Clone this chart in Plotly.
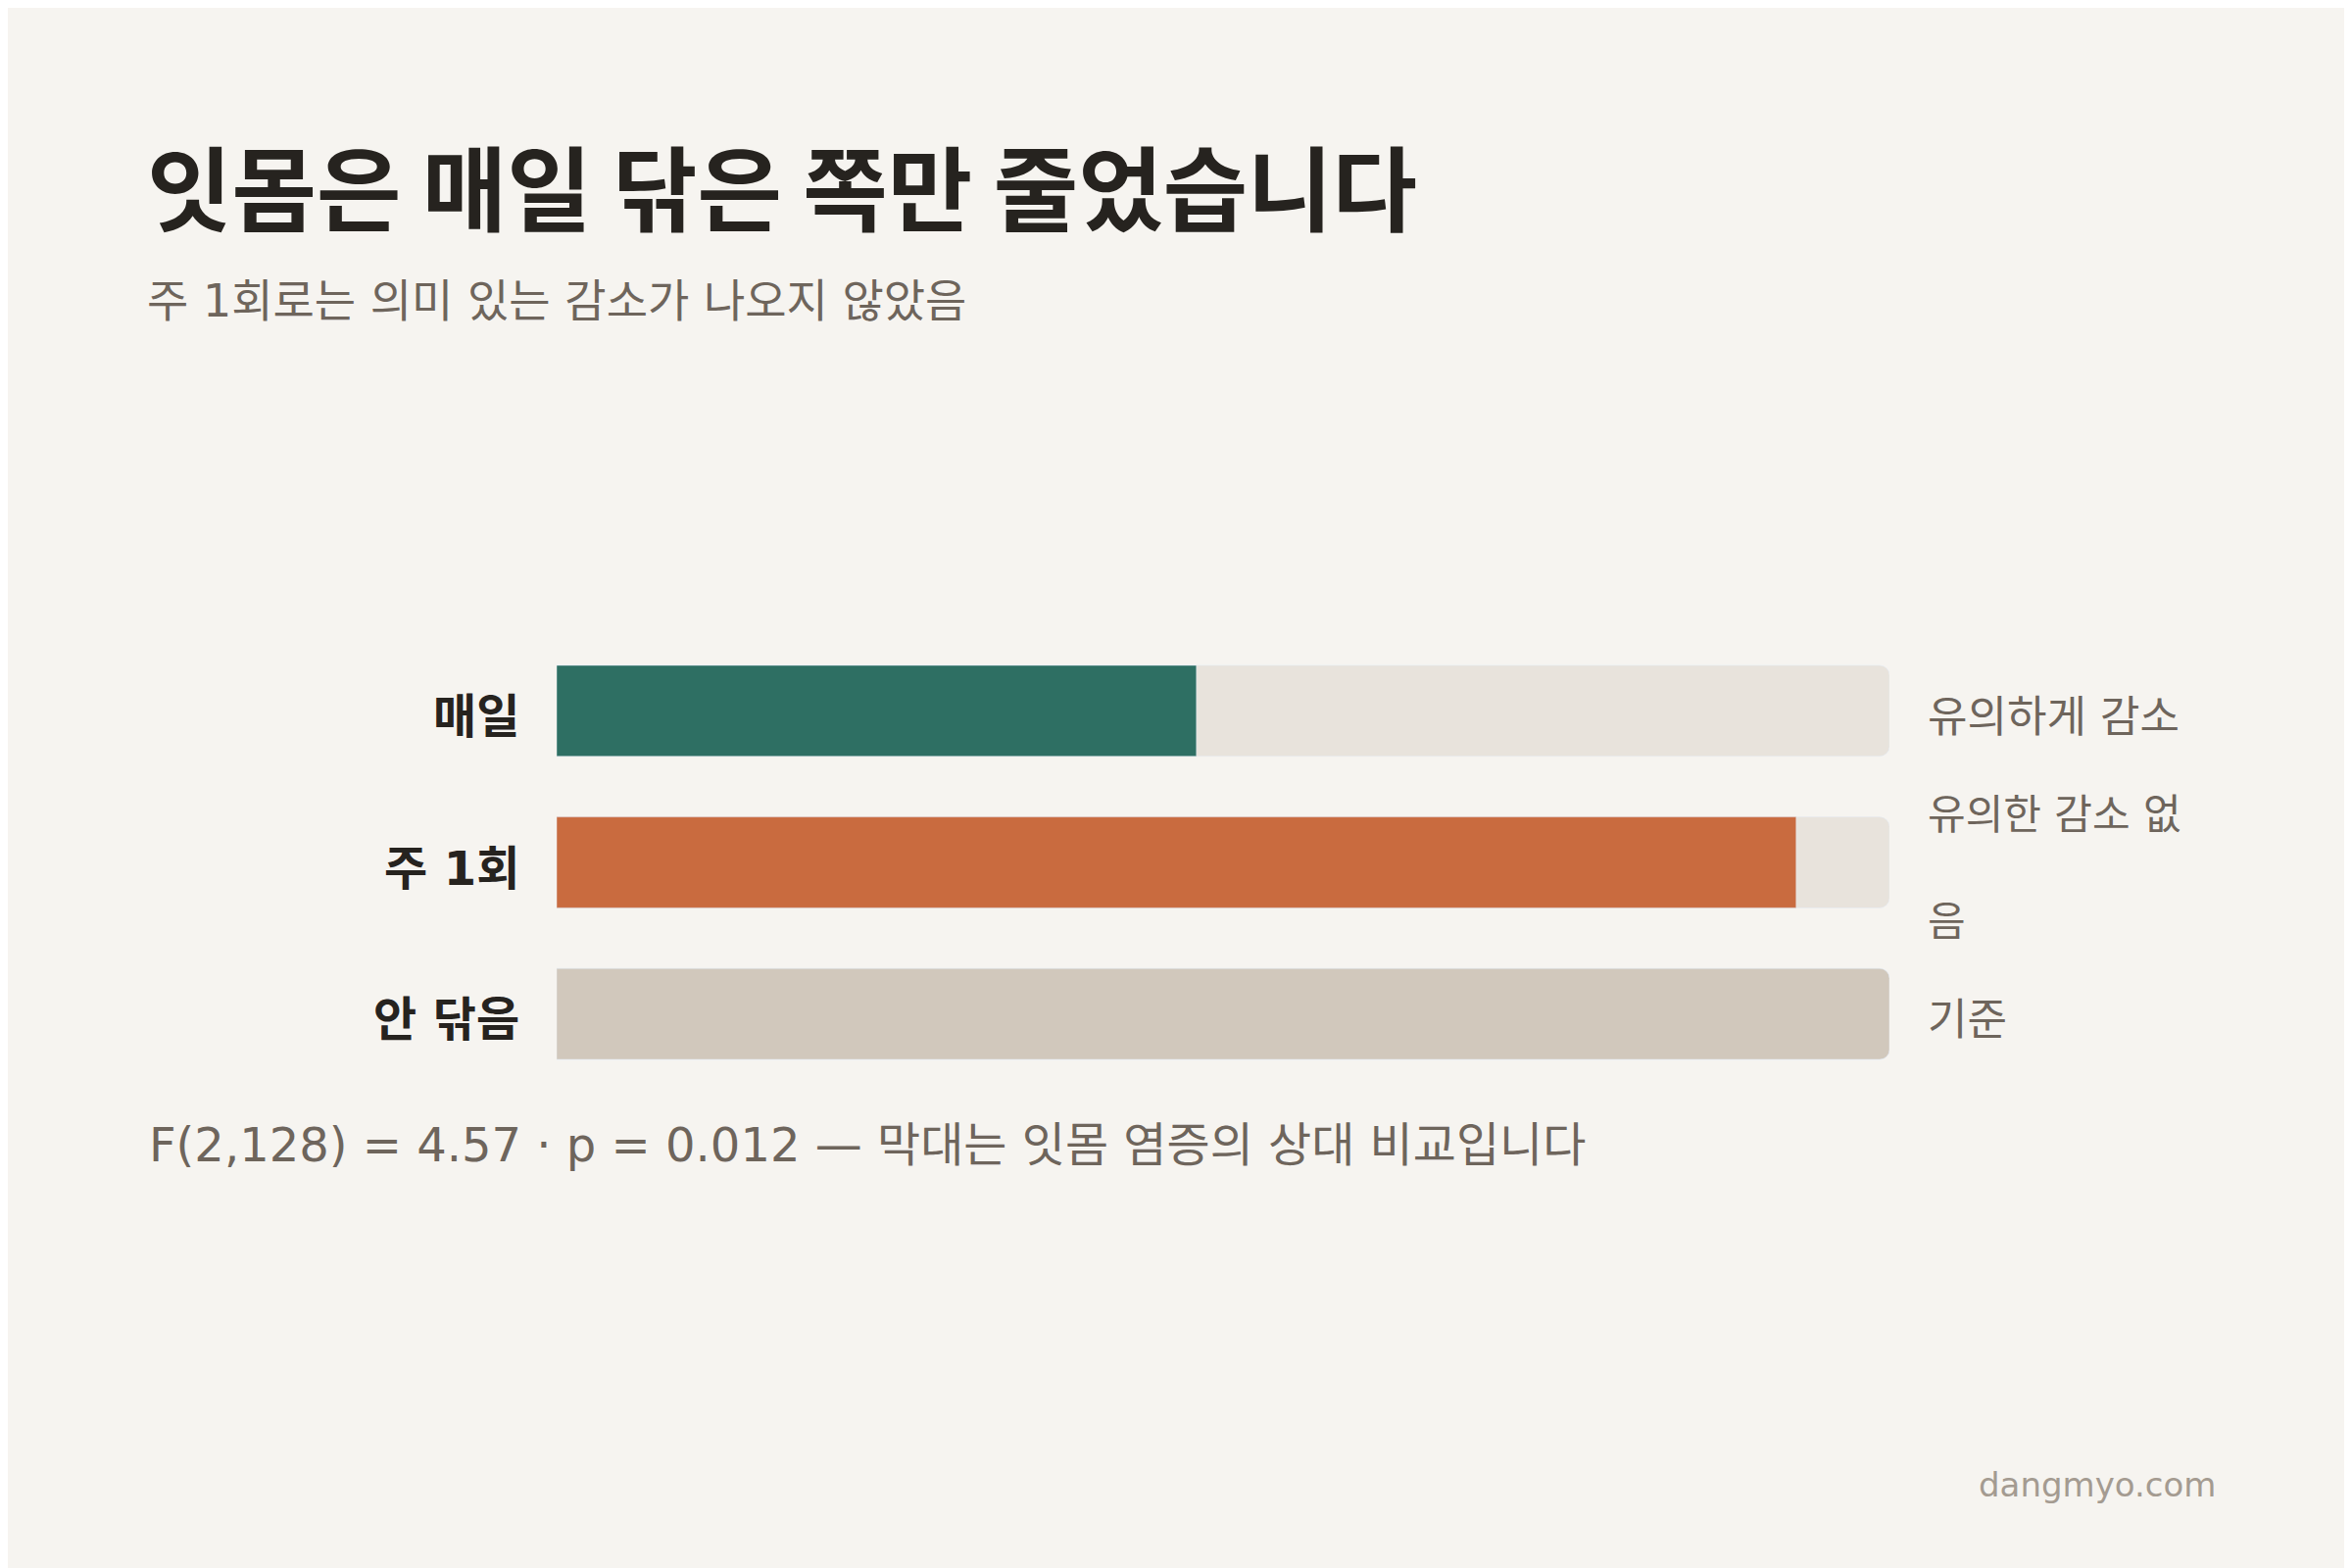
import plotly.graph_objects as go

categories = ["매일", "주 1회", "안 닦음"]
values = [0.48, 0.93, 1.0]
notes = ["유의하게 감소", "유의한 감소 없<br> <br>음", "기준"]
bar_colors = ["#2e6f63", "#c96b3f", "#d1c8bc"]

FONT = "DejaVu Sans, Noto Sans CJK KR"
W, H = 2400, 1600

fig = go.Figure()
fig.add_trace(go.Bar(x=[1] * len(categories), y=categories, orientation="h", width=0.6,
                     marker=dict(color="#e8e3dc", cornerradius=10), hoverinfo="skip", showlegend=False))
fig.add_trace(go.Bar(x=values, y=categories, orientation="h", width=0.6,
                     marker=dict(color=bar_colors, cornerradius=10), showlegend=False))

def px(x, y):
    return x / W, 1 - y / H

ann = []
tx, ty = px(140, 110)
ann.append(dict(x=tx, y=ty, text="<b>잇몸은 매일 닦은 쪽만 줄었습니다</b>", xanchor="left", yanchor="top",
                font=dict(size=94, color="#26231f", family="Noto Sans CJK KR")))
tx, ty = px(140, 270)
ann.append(dict(x=tx, y=ty, text="주 1회로는 의미 있는 감소가 나오지 않았음", xanchor="left", yanchor="top",
                font=dict(size=46, color="#6e655c", family=FONT)))
for i, (c, n) in enumerate(zip(categories, notes)):
    cy = 723 + i * 154.5
    lx, ly = px(524, cy)
    ann.append(dict(x=lx, y=ly, text=f"<b>{c}</b>", xanchor="right", yanchor="middle",
                    font=dict(size=48, color="#26231f", family=FONT)))
    rx, _ = px(1957, cy)
    ann.append(dict(x=rx, y=ly, text=n, xanchor="left", yanchor="middle", align="left",
                    font=dict(size=44 if i != 1 else 42, color="#6e655c", family=FONT)))
tx, ty = px(142, 1160)
ann.append(dict(x=tx, y=ty, text="F(2,128) = 4.57 · p = 0.012 — 막대는 잇몸 염증의 상대 비교입니다",
                xanchor="left", yanchor="middle", font=dict(size=48, color="#6e655c", family=FONT)))
tx, ty = px(2255, 1507)
ann.append(dict(x=tx, y=ty, text="dangmyo.com", xanchor="right", yanchor="middle",
                font=dict(size=34, color="#a49b91", family=FONT)))
for a in ann:
    a.update(xref="paper", yref="paper", showarrow=False)

fig.update_layout(
    width=W, height=H, margin=dict(l=0, r=0, t=0, b=0),
    paper_bgcolor="#f6f4f0", plot_bgcolor="#f6f4f0", barmode="overlay",
    xaxis=dict(range=[0, 1], domain=[560 / W, 1920 / W], visible=False),
    yaxis=dict(range=[2.5, -0.5], domain=[0.31, 0.60], visible=False),
    annotations=ann,
)
fig.write_html("out.html")
